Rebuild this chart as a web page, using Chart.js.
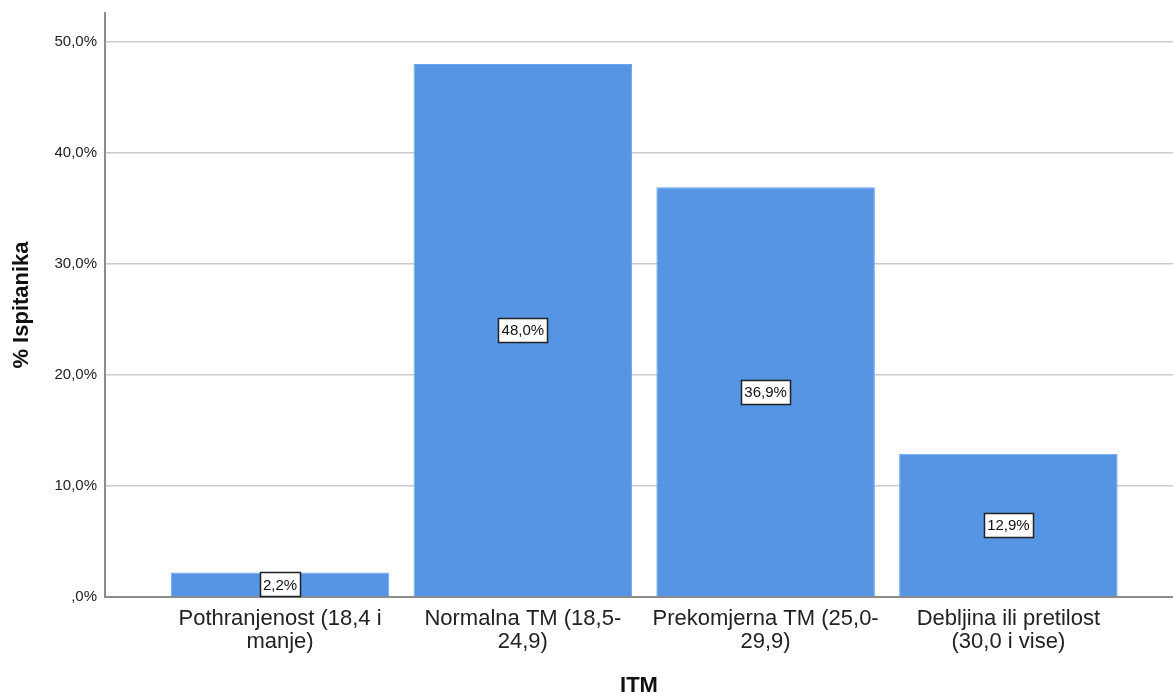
<!DOCTYPE html>
<html>
<head>
<meta charset="utf-8">
<script src="https://cdn.jsdelivr.net/npm/chart.js@4/dist/chart.umd.min.js"></script>
<style>
  html, body { margin: 0; padding: 0; background: #fff; }
  #wrap { width: 1173px; height: 695px; position: relative; }
</style>
</head>
<body>
<div id="wrap"><canvas id="c"></canvas></div>
<script>
const categories = [
    ['Pothranjenost (18,4 i', 'manje)'],
    ['Normalna TM (18,5-', '24,9)'],
    ['Prekomjerna TM (25,0-', '29,9)'],
    ['Debljina ili pretilost', '(30,0 i vise)'],
];
const percents = [2.2, 48.0, 36.9, 12.9];
const yTicks   = [0, 10, 20, 30, 40, 50];

const FONT = '"Liberation Sans", Arial, sans-serif';
const pct = v => (v === 0 ? '' : Math.floor(v)) + ',' + Math.round((v % 1) * 10) + '%';

// white boxed value labels in the middle of each bar
const boxLabels = {
    id: 'boxLabels',
    afterDatasetsDraw(chart) {
        const ctx = chart.ctx;
        const meta = chart.getDatasetMeta(0);
        ctx.save();
        ctx.font = '15px ' + FONT;
        ctx.textAlign = 'center';
        ctx.textBaseline = 'middle';
        meta.data.forEach((bar, i) => {
            const txt = pct(percents[i]);
            const cy = (bar.y + bar.base) / 2;
            const w = Math.round(ctx.measureText(txt).width + 6);
            const h = 24;
            const x0 = Math.round(bar.x - w / 2), y0 = Math.round(cy - h / 2);
            ctx.fillStyle = '#fff';
            ctx.fillRect(x0, y0, w, h);
            ctx.strokeStyle = '#222';
            ctx.lineWidth = 1.5;
            ctx.strokeRect(x0 + 0.5, y0 + 0.5, w, h);
            ctx.fillStyle = '#111';
            ctx.fillText(txt, bar.x, cy + 1);
        });
        ctx.restore();
    }
};

new Chart(document.getElementById('c'), {
    type: 'bar',
    data: {
        datasets: [{
            label: '% Ispitanika',
            data: percents.map((v, i) => ({ x: i, y: v })),
            backgroundColor: '#5595e3',
            borderColor: '#6ea5e8',
            borderWidth: 1,
            barPercentage: 0.9,
            categoryPercentage: 1,
        }]
    },
    options: {
        responsive: true,
        maintainAspectRatio: false,
        animation: false,
        layout: { padding: { top: 13, left: 0, right: 0, bottom: 0 } },
        plugins: { legend: { display: false }, tooltip: { enabled: false } },
        scales: {
            x: {
                type: 'linear',
                offset: false,
                min: -0.721,
                max: 3.678,
                grid: { display: false, drawTicks: false },
                border: { color: '#8c8c8c', width: 2 },
                afterBuildTicks: s => { s.ticks = categories.map((c, i) => ({ value: i })); },
                afterFit: s => { s.height = 98; s.paddingLeft = 0; s.paddingRight = 0; },
                ticks: {
                    autoSkip: false,
                    maxRotation: 0,
                    padding: 10,
                    color: '#222',
                    font: { size: 22, family: FONT, lineHeight: 1.05 },
                    callback: v => categories[v],
                },
                title: {
                    display: true,
                    text: 'ITM',
                    color: '#111',
                    font: { size: 22, weight: 'bold', family: FONT, lineHeight: 0.8 },
                    padding: { top: 0, bottom: 0 },
                },
            },
            y: {
                min: 0,
                max: 52.6,
                afterBuildTicks: s => { s.ticks = yTicks.map(v => ({ value: v })); },
                afterFit: s => { s.width = 105; s.paddingTop = 0; s.paddingBottom = 0; },
                grid: { color: '#cccccc', lineWidth: 1.5, drawTicks: false },
                border: { color: '#8c8c8c', width: 2 },
                ticks: {
                    padding: 8,
                    color: '#222',
                    font: { size: 15, family: FONT },
                    callback: v => pct(v),
                },
                title: {
                    display: true,
                    text: '% Ispitanika',
                    color: '#111',
                    font: { size: 22, weight: 'bold', family: FONT, lineHeight: 1.2 },
                    padding: { top: 9, bottom: 0 },
                },
            }
        }
    },
    plugins: [boxLabels]
});
</script>
</body>
</html>
